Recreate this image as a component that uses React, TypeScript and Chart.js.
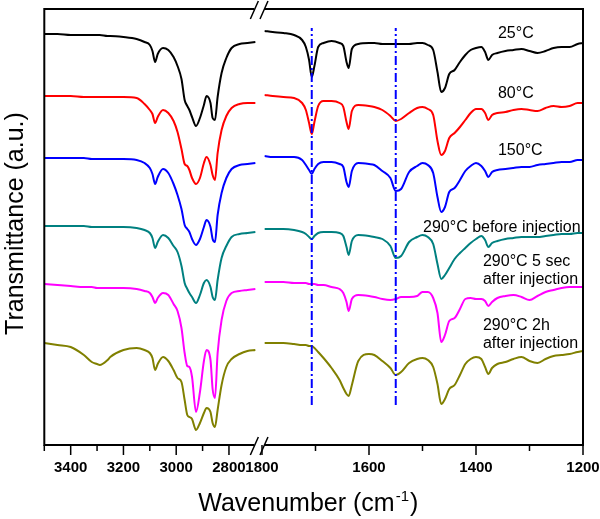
import React, { useEffect, useRef } from 'react';
import { Chart, registerables } from 'chart.js';

Chart.register(...registerables);

// ---------- data ----------
const leftWavenumbers = [3500, 3450, 3400, 3350, 3320, 3300, 3290, 3260, 3250, 3200,
  3150, 3120, 3100, 3090, 3080, 3070, 3050, 3030, 3010, 2995,
  2980, 2968, 2958, 2950, 2940, 2925, 2910, 2895, 2885, 2870,
  2862, 2853, 2843, 2828, 2810, 2790, 2760, 2730, 2700];

const rightWavenumbers = [1795, 1780, 1760, 1740, 1725, 1718, 1712, 1707, 1702, 1695,
  1685, 1670, 1655, 1648, 1642, 1638, 1632, 1620, 1600, 1590,
  1575, 1560, 1550, 1540, 1525, 1510, 1500, 1490, 1480, 1472,
  1465, 1458, 1450, 1440, 1430, 1420, 1410, 1400, 1390, 1383,
  1377, 1370, 1360, 1345, 1330, 1315, 1300, 1285, 1270, 1255,
  1240, 1225, 1210, 1200];

const t25Left = [413, 413, 412, 412, 412, 412, 412, 411, 411, 410,
  408, 405, 402, 396, 385, 393, 399, 397, 390, 381,
  368, 347, 341, 337, 330, 321, 329, 342, 351, 344,
  329, 327, 350, 374, 389, 399, 403, 404, 405];
const t25Right = [416, 415, 414, 412, 407, 400, 387, 370, 381, 400,
  404, 406, 404, 401, 385, 379, 398, 403, 404, 404,
  403, 403, 403, 403, 403, 404, 404, 402, 397, 375,
  355, 359, 373, 377, 385, 392, 397, 399, 400, 395,
  387, 392, 394, 396, 397, 398, 396, 394, 396, 399,
  400, 400, 403, 404];

const t80Left = [351, 351, 351, 350, 350, 350, 350, 350, 350, 350,
  349, 343, 337, 333, 324, 330, 337, 334, 326, 315,
  298, 283, 281, 277, 269, 263, 269, 284, 290, 282,
  272, 267, 294, 317, 331, 339, 343, 344, 344];
const t80Right = [352, 351, 350, 349, 344, 337, 324, 313, 325, 341,
  346, 346, 344, 340, 325, 318, 336, 342, 341, 340,
  337, 331, 326, 328, 334, 339, 340, 338, 332, 306,
  292, 296, 309, 314, 320, 327, 334, 338, 338, 334,
  327, 332, 334, 335, 337, 338, 337, 336, 339, 341,
  340, 341, 344, 344];

const t150Left = [289, 289, 289, 289, 288, 288, 288, 288, 288, 288,
  287, 284, 279, 273, 263, 270, 278, 274, 263, 252,
  238, 222, 218, 215, 208, 202, 208, 220, 227, 220,
  208, 205, 232, 254, 269, 278, 282, 283, 284];
const t150Right = [291, 290, 290, 290, 287, 282, 277, 273, 278, 283,
  285, 285, 283, 280, 265, 260, 276, 284, 283, 282,
  276, 269, 256, 258, 275, 281, 284, 282, 274, 250,
  235, 240, 255, 259, 267, 276, 281, 284, 281, 276,
  270, 275, 277, 278, 279, 280, 280, 282, 283, 284,
  285, 285, 287, 287];

const t290BeforeLeft = [221, 221, 221, 221, 220, 220, 220, 220, 220, 220,
  219, 217, 214, 209, 199, 205, 212, 209, 201, 195,
  181, 164, 158, 154, 150, 144, 152, 164, 167, 160,
  150, 147, 167, 189, 201, 210, 213, 214, 215];
const t290BeforeRight = [218, 218, 218, 217, 215, 213, 210, 208, 211, 214,
  215, 215, 214, 211, 200, 192, 206, 212, 211, 210,
  208, 201, 189, 191, 205, 210, 212, 210, 203, 183,
  168, 172, 179, 188, 194, 199, 204, 208, 211, 207,
  200, 204, 206, 208, 209, 210, 210, 210, 211, 212,
  213, 213, 214, 214];

const t290FiveSecLeft = [163, 162, 161, 160, 160, 159, 159, 159, 159, 159,
  158, 156, 154, 150, 144, 149, 154, 152, 143, 136,
  119, 94, 81, 80, 70, 35, 55, 86, 97, 87,
  58, 49, 94, 127, 146, 154, 156, 157, 158];
const t290FiveSecRight = [165, 165, 165, 164, 164, 164, 163, 163, 163, 162,
  162, 160, 158, 154, 145, 136, 148, 152, 151, 150,
  148, 147, 148, 150, 150, 151, 155, 155, 149, 134,
  105, 112, 126, 129, 138, 148, 149, 148, 148, 146,
  141, 145, 149, 151, 152, 150, 147, 151, 155, 157,
  159, 160, 160, 160];

const t290TwoHourLeft = [104, 102, 100, 92, 85, 83, 82, 87, 90, 97,
  99, 97, 94, 89, 77, 83, 90, 86, 77, 69,
  65, 47, 32, 30, 28, 17, 24, 34, 39, 35,
  24, 20, 37, 62, 80, 88, 93, 96, 97];
const t290TwoHourRight = [104, 104, 104, 103, 102, 102, 101, 101, 99, 95,
  89, 79, 67, 59, 53, 51, 62, 86, 93, 92,
  86, 79, 72, 75, 84, 88, 89, 87, 80, 63,
  43, 48, 58, 62, 72, 83, 88, 90, 88, 80,
  73, 79, 83, 85, 88, 90, 86, 84, 88, 91,
  92, 93, 95, 96];

const seriesColors = ['#000000', '#ff0000', '#0000ff', '#008080', '#ff00ff', '#808000'];

const markerWavenumbers = [1707, 1550];
const markerSpan = [42, 419];

const majorTickWavenumbers = [3400, 3200, 3000, 2800, 1800, 1600, 1400, 1200];
const minorTickWavenumbers = [3500, 3300, 3100, 2900, 1700, 1500, 1300];

const annotationTexts = ['25°C', '80°C', '150°C', '290°C before injection', '290°C 5 sec', 'after injection', '290°C 2h', 'after injection'];
const annotationWavenumbers = [1359, 1359, 1359, 1499, 1387, 1387, 1387, 1387];
const annotationHeights = [409, 349, 292, 215, 181, 163, 117, 99];

// ---------- broken axis mapping ----------
const LEFT_START = 3500;
const LEFT_END = 2700;
const RIGHT_START = 1800;
const RIGHT_END = 1200;
const BREAK_GAP = 25.2;
const RIGHT_STRETCH = 2.028;

function toU(w: number): number {
  if (w >= 2000) return LEFT_START - w;
  return (LEFT_START - LEFT_END) + BREAK_GAP + (RIGHT_START - w) * RIGHT_STRETCH;
}
const U_MAX = toU(RIGHT_END);

function labelFor(u: number): string {
  for (const w of majorTickWavenumbers) {
    if (Math.abs(toU(w) - u) < 0.5) return String(w);
  }
  return '';
}

const FONT = '"Liberation Sans", Arial, sans-serif';

const decorPlugin = {
  id: 'decor',
  afterDatasetsDraw(chart: any) {
    const { ctx, chartArea: a, scales } = chart;
    const xs = scales.x;
    const ys = scales.y;
    ctx.save();
    ctx.strokeStyle = '#000';
    ctx.lineWidth = 2;
    ctx.lineCap = 'butt';
    const b1 = xs.getPixelForValue(toU(LEFT_END)) - 1;
    const b2 = xs.getPixelForValue(toU(RIGHT_START)) + 2;
    ctx.beginPath();
    ctx.moveTo(a.left, a.top - 1);
    ctx.lineTo(a.left, a.bottom + 1);
    ctx.moveTo(a.right, a.top - 1);
    ctx.lineTo(a.right, a.bottom + 1);
    for (const y of [a.top, a.bottom]) {
      ctx.moveTo(a.left, y);
      ctx.lineTo(b1, y);
      ctx.moveTo(b2, y);
      ctx.lineTo(a.right, y);
    }
    ctx.stroke();

    ctx.lineWidth = 1.5;
    ctx.beginPath();
    for (const y of [a.top + 1, a.bottom + 1]) {
      for (const c of [b1, b2]) {
        ctx.moveTo(c - 4, y + 9);
        ctx.lineTo(c + 4, y - 9);
      }
    }
    ctx.stroke();

    ctx.lineWidth = 1.5;
    ctx.beginPath();
    for (const w of majorTickWavenumbers) {
      const px = xs.getPixelForValue(toU(w));
      ctx.moveTo(px, a.bottom);
      ctx.lineTo(px, a.bottom + 10);
    }
    for (const w of minorTickWavenumbers) {
      const px = xs.getPixelForValue(toU(w));
      ctx.moveTo(px, a.bottom);
      ctx.lineTo(px, a.bottom + 6);
    }
    ctx.stroke();

    // annotations
    ctx.fillStyle = '#000';
    ctx.font = `16px ${FONT}`;
    ctx.textAlign = 'left';
    ctx.textBaseline = 'alphabetic';
    annotationTexts.forEach((t, i) => {
      const px = xs.getPixelForValue(toU(annotationWavenumbers[i]));
      const py = ys.getPixelForValue(annotationHeights[i]);
      ctx.fillText(t, px, py);
    });

    // x title with superscript
    ctx.font = `25px ${FONT}`;
    const main = 'Wavenumber (cm';
    const sx = a.left + 154;
    const sy = a.bottom + 66;
    ctx.fillText(main, sx, sy);
    let cx = sx + ctx.measureText(main).width;
    ctx.font = `15px ${FONT}`;
    ctx.fillText('-1', cx + 1, sy - 10);
    cx += ctx.measureText('-1').width + 2;
    ctx.font = `25px ${FONT}`;
    ctx.fillText(')', cx, sy);

    // y title
    ctx.save();
    ctx.translate(a.left - 21, (a.top + a.bottom) / 2 - 3.5);
    ctx.rotate(-Math.PI / 2);
    ctx.textAlign = 'center';
    ctx.fillText('Transmittance (a.u.)', 0, 0);
    ctx.restore();

    ctx.restore();
  },
};

export default function App() {
  const canvasRef = useRef<HTMLCanvasElement | null>(null);

  useEffect(() => {
    const canvas = canvasRef.current;
    if (!canvas) return;
    const spectra = [
      [t25Left, t25Right],
      [t80Left, t80Right],
      [t150Left, t150Right],
      [t290BeforeLeft, t290BeforeRight],
      [t290FiveSecLeft, t290FiveSecRight],
      [t290TwoHourLeft, t290TwoHourRight],
    ];
    const gapU = (toU(LEFT_END) + toU(RIGHT_START)) / 2;
    const spectraSets = spectra.map((s, k) => ({
      type: 'line' as const,
      data: [
        ...leftWavenumbers.map((w, i) => ({ x: toU(w), y: s[0][i] })),
        { x: gapU, y: null as any },
        ...rightWavenumbers.map((w, i) => ({ x: toU(w), y: s[1][i] })),
      ],
      borderColor: seriesColors[k],
      borderWidth: 2,
      pointRadius: 0,
      fill: false,
      spanGaps: false,
      cubicInterpolationMode: 'monotone' as const,
      order: 1,
    }));
    const markerSets = markerWavenumbers.map((w) => ({
      type: 'line' as const,
      data: [
        { x: toU(w), y: markerSpan[0] },
        { x: toU(w), y: markerSpan[1] },
      ],
      borderColor: '#0000ff',
      borderWidth: 2,
      borderDash: [9, 3, 2, 3],
      pointRadius: 0,
      fill: false,
      order: 0,
    }));

    const chart = new Chart(canvas, {
      type: 'line',
      data: { datasets: [...spectraSets, ...markerSets] as any },
      options: {
        animation: false,
        responsive: false,
        maintainAspectRatio: false,
        parsing: false as any,
        normalized: true,
        layout: { padding: { top: 9, right: 17, bottom: 0, left: 0 } },
        plugins: { legend: { display: false }, tooltip: { enabled: false } },
        events: [],
        scales: {
          x: {
            type: 'linear',
            min: 0,
            max: U_MAX,
            grid: { display: false, drawTicks: false },
            border: { display: false },
            afterBuildTicks: (s: any) => {
              s.ticks = majorTickWavenumbers.map((w) => ({ value: toU(w) }));
            },
            afterFit: (s: any) => {
              s.height = 74;
              s.paddingLeft = 0;
              s.paddingRight = 0;
            },
            ticks: {
              autoSkip: false,
              maxRotation: 0,
              minRotation: 0,
              padding: 14,
              color: '#000',
              font: { family: FONT, size: 15, weight: 'bold' },
              callback: (v: any) => labelFor(Number(v)),
            },
          },
          y: {
            type: 'linear',
            min: 2,
            max: 438,
            grid: { display: false, drawTicks: false },
            border: { display: false },
            ticks: { display: false },
            afterFit: (s: any) => {
              s.width = 44.3;
              s.paddingTop = 0;
              s.paddingBottom = 0;
            },
          },
        },
      },
      plugins: [decorPlugin],
    });
    return () => chart.destroy();
  }, []);

  return (
    <div style={{ position: 'fixed', left: 0, top: 0, width: 600, height: 519, background: '#fff' }}>
      <canvas ref={canvasRef} width={600} height={519} style={{ width: 600, height: 519, display: 'block' }} />
    </div>
  );
}
